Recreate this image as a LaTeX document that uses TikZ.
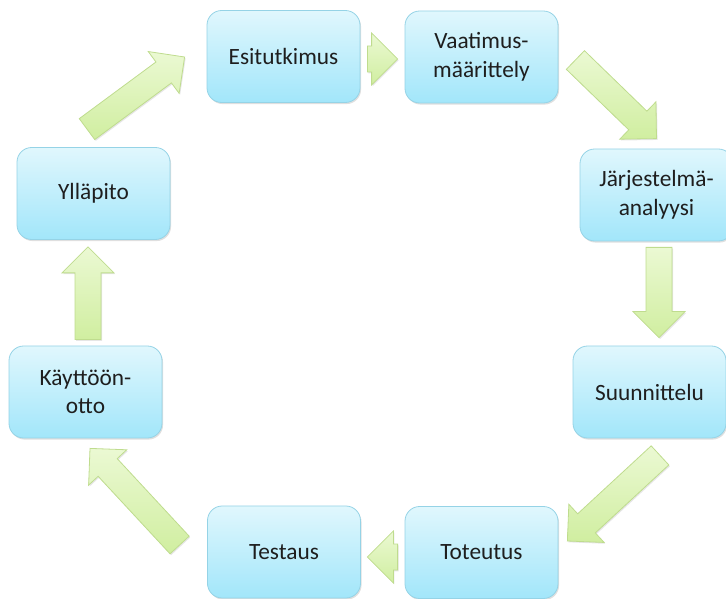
\documentclass[tikz,border=0pt]{standalone}
\usepackage{fontspec}
\setmainfont{Carlito}
\usetikzlibrary{calc,shadows}

\definecolor{boxtop}{HTML}{E0F7FD}
\definecolor{boxbottom}{HTML}{A2E6FA}
\definecolor{boxline}{HTML}{95D3E6}
\definecolor{arrtop}{HTML}{EBF9D3}
\definecolor{arrbottom}{HTML}{D0EEA0}
\definecolor{arrline}{HTML}{BFDC8E}
\definecolor{txt}{HTML}{1E1E1E}

% wide arrow from #1 to #2
\newcommand{\blockarrow}[2]{%
  \coordinate (h) at ($(#2)!19.5pt!(#1)$);
  \path[block arrow] ($(#1)!9.75pt!90:(#2)$) -- ($(h)!9.75pt!90:(#2)$) -- ($(h)!19.5pt!90:(#2)$) -- (#2)
    -- ($(h)!19.5pt!-90:(#2)$) -- ($(h)!9.75pt!-90:(#2)$) -- ($(#1)!9.75pt!-90:(#2)$) -- cycle;}

\begin{document}
\begin{tikzpicture}[x=0.75pt,y=-0.75pt,
    phase/.style={rectangle,rounded corners=11pt,draw=boxline,line width=0.6pt,
      top color=boxtop,bottom color=boxbottom,minimum width=114.75pt,minimum height=69pt,
      inner sep=0pt,align=center,text=txt,font=\fontsize{17.5}{21.5}\selectfont,
      drop shadow={opacity=0.25,shadow xshift=0.8pt,shadow yshift=-1.2pt}},
    block arrow/.style={draw=arrline,line width=0.6pt,top color=arrtop,bottom color=arrbottom,
      drop shadow={opacity=0.2,shadow xshift=0.8pt,shadow yshift=-1pt}}]
    \useasboundingbox (0,0) rectangle (726,599);

    \node[phase] (1) at (283.5,56.5) {Esitutkimus};
    \node[phase] (2) at (481.5,57) {Vaatimus-\\määrittely};
    \node[phase] (3) at (656.5,195) {Järjestelmä-\\analyysi};
    \node[phase] (4) at (649.5,392) {Suunnittelu};
    \node[phase] (5) at (481.5,552.5) {Toteutus};
    \node[phase] (6) at (284,552) {Testaus};
    \node[phase] (7) at (85.5,392) {Käyttöön-\\otto};
    \node[phase] (8) at (93.5,193.5) {Ylläpito};

    % arrow ends
    \coordinate (a1) at ($(1.east)+(7,2.5)$);
    \coordinate (b1) at ($(2.west)+(-7,2)$);
    \coordinate (a2) at ($(2.east)+(17,3)$);
    \coordinate (b2) at ($(3.north)+(0,-10)$);
    \coordinate (a3) at ($(3.south)+(2.5,6)$);
    \coordinate (b3) at ($(4.north)+(9.5,-8)$);
    \coordinate (a4) at ($(4.south)+(10.5,17)$);
    \coordinate (b4) at ($(5.east)+(9,-11.5)$);
    \coordinate (a5) at ($(5.west)+(-7,4.5)$);
    \coordinate (b5) at ($(6.east)+(6.5,5)$);
    \coordinate (a6) at ($(6.west)+(-27.5,-7)$);
    \coordinate (b6) at ($(7.south)+(4.5,10)$);
    \coordinate (a7) at ($(7.north)+(2.5,-6)$);
    \coordinate (b7) at ($(8.south)+(-5.5,7)$);
    \coordinate (a8) at ($(8.north)+(-6.5,-18)$);
    \coordinate (b8) at ($(1.west)+(-22,0.5)$);

    \blockarrow{a1}{b1}
    \blockarrow{a2}{b2}
    \blockarrow{a3}{b3}
    \blockarrow{a4}{b4}
    \blockarrow{a5}{b5}
    \blockarrow{a6}{b6}
    \blockarrow{a7}{b7}
    \blockarrow{a8}{b8}
\end{tikzpicture}
\end{document}
